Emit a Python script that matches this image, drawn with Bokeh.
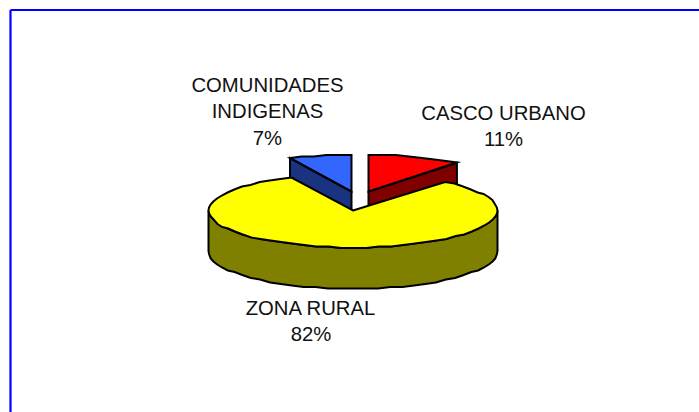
import numpy as np
from bokeh.plotting import figure
from bokeh.models import Range1d
from bokeh.embed import file_html
from bokeh.resources import INLINE
from bokeh.core.properties import value

categories = ["CASCO URBANO", "ZONA RURAL", "COMUNIDADES INDIGENAS"]
shares = [11, 82, 7]
label_lines = [["CASCO URBANO", "11%"], ["ZONA RURAL", "82%"], ["COMUNIDADES", "INDIGENAS", "7%"]]
top_colors = ["#ff0000", "#ffff00", "#3366ff"]
side_colors = ["#800000", "#808000", "#1a3380"]

W, H = 699, 412
p = figure(width=W, height=H, output_backend="svg", toolbar_location=None,
           x_range=Range1d(0, W), y_range=Range1d(H, 0),
           min_border=0, outline_line_color=None)
p.axis.visible = False
p.grid.visible = False

cx, cy, rx, ry, depth = 352.5, 210.0, 144.5, 37.0, 41.0
offsets = [(15.5, -19.0), (0.0, 0.0), (-1.5, -19.0)]
x_scale = [0.96, 1.0, 1.0]

def arc(a0, a1, ox, oy, dy=0.0, step=5.0, sx=1.0):
    n = max(2, int(abs(a1 - a0) / step) + 1)
    t = np.radians(np.linspace(a0, a1, n))
    x = cx + ox + sx * rx * np.sin(t)
    y = cy + oy + dy - ry * np.cos(t)
    # the reference's outline is a coarse, stepped polyline
    return x, np.round(y / 1.5) * 1.5

def poly(x, y, color):
    p.patch(list(x), list(y), fill_color=color, line_color="black", line_width=2, line_join="miter")

cum = np.cumsum([0] + shares) * 3.6
for i in [0, 2]:
    a0, a1 = cum[i], cum[i + 1]
    ox, oy = offsets[i]
    ax, ay = cx + ox, cy + oy
    a_edge = a1 if i == 0 else a0
    t = np.radians(a_edge)
    ex, ey = cx + ox + x_scale[i] * rx * np.sin(t), cy + oy - ry * np.cos(t)
    poly([ax, ex, ex, ax], [ay, ey, ey + depth, ay + depth], side_colors[i])
    x, y = arc(a0, a1, ox, oy, sx=x_scale[i])
    poly(np.r_[ax, x], np.r_[ay, y], top_colors[i])

a0, a1 = cum[1], cum[2]
ox, oy = offsets[1]
fx, fy = arc(90, 270, ox, oy)
fxb, fyb = arc(270, 90, ox, oy, dy=depth)
poly(np.r_[fx, fxb], np.r_[fy, fyb], side_colors[1])
x, y = arc(a0, a1, ox, oy)
poly(np.r_[cx, x], np.r_[cy, y], top_colors[1])

anchors = [(503.0, 112.5), (310.5, 307.5), (267.0, 84.5)]
lh = 26.4
for lines, (tx, ty) in zip(label_lines, anchors):
    for k, s in enumerate(lines):
        p.text([tx], [ty + k * lh], text=[s], text_font=value("Liberation Sans"), text_font_size="20.3px",
               text_align="center", text_baseline="middle", text_color="#111111")

p.line([10, 10], [9.5, H], line_color="#0000ff", line_width=2.2)
p.line([10, W], [9.5, 9.5], line_color="#0000ff", line_width=2.2)

open("out.html", "w").write(file_html(p, INLINE))
